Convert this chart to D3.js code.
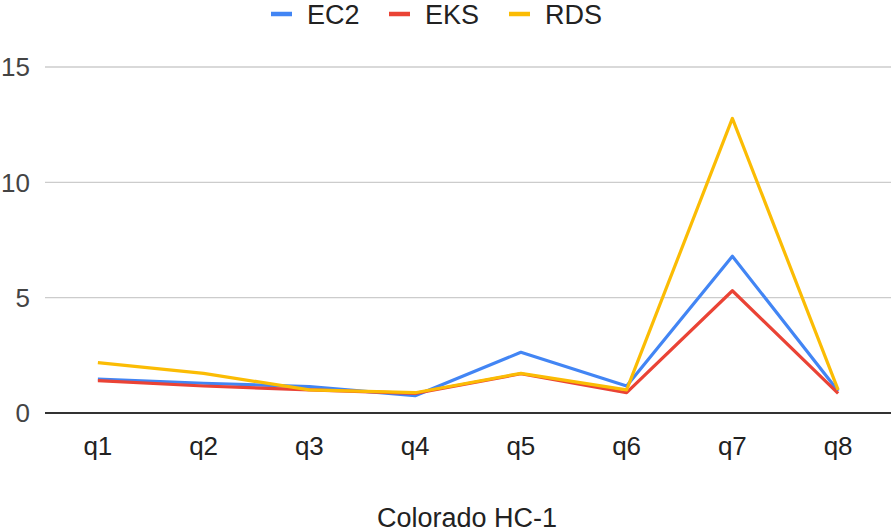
<!DOCTYPE html>
<html>
<head>
<meta charset="utf-8">
<script src="https://cdn.jsdelivr.net/npm/d3@7"></script>
<style>
  html, body { margin: 0; padding: 0; background: #fff; }
  text { font-family: Arial, "Liberation Sans", sans-serif; }
</style>
</head>
<body>
<svg id="chart" width="894" height="532"></svg>
<script>
const categories = ["q1", "q2", "q3", "q4", "q5", "q6", "q7", "q8"];
const seriesNames = ["EC2", "EKS", "RDS"];
const ec2 = [1.47, 1.29, 1.14, 0.75, 2.63, 1.17, 6.80, 0.95];
const eks = [1.40, 1.17, 1.00, 0.85, 1.70, 0.88, 5.30, 0.85];
const rds = [2.18, 1.72, 1.00, 0.88, 1.72, 1.00, 12.77, 1.00];
const yTicks = [0, 5, 10, 15];
const colors = ["#4285F4", "#EA4335", "#FBBC04"];
const title = "Colorado HC-1";

const seriesValues = [ec2, eks, rds];
const svg = d3.select("#chart");
const W = 894, H = 532;
const m = { left: 45, right: 3, top: 67, bottom: 119 };

const x = d3.scaleBand().domain(categories).range([m.left, W - m.right]).padding(0);
const y = d3.scaleLinear().domain([0, 15]).range([H - m.bottom, m.top]);

// gridlines
svg.append("g").selectAll("line").data(yTicks.filter(t => t !== 0)).join("line")
  .attr("x1", m.left).attr("x2", W - m.right)
  .attr("y1", d => y(d)).attr("y2", d => y(d))
  .attr("stroke", "#cccccc").attr("stroke-width", 1.3);

// y tick labels
svg.append("g").selectAll("text").data(yTicks).join("text")
  .attr("x", 30).attr("y", d => y(d)).attr("dy", "0.36em")
  .attr("text-anchor", "end").attr("font-size", 26).attr("fill", "#444")
  .text(d => d);

// x labels
svg.append("g").selectAll("text").data(categories).join("text")
  .attr("x", d => x(d) + x.bandwidth() / 2).attr("y", 455)
  .attr("text-anchor", "middle").attr("font-size", 26).attr("fill", "#222")
  .text(d => d);

// lines
const line = d3.line()
  .x((d, i) => x(categories[i]) + x.bandwidth() / 2)
  .y(d => y(d));
svg.append("g").selectAll("path").data(seriesValues).join("path")
  .attr("d", d => line(d))
  .attr("fill", "none")
  .attr("stroke", (d, i) => colors[i])
  .attr("stroke-width", 3.2)
  .attr("stroke-linejoin", "round");

// baseline axis
svg.append("line")
  .attr("x1", m.left).attr("x2", W - m.right)
  .attr("y1", y(0)).attr("y2", y(0))
  .attr("stroke", "#333").attr("stroke-width", 2);

// legend
const legendX = [271, 389, 509];
const lg = svg.append("g").selectAll("g").data(seriesNames).join("g")
  .attr("transform", (d, i) => `translate(${legendX[i]},14)`);
lg.append("line").attr("x1", 0).attr("x2", 21).attr("y1", 0).attr("y2", 0)
  .attr("stroke", (d, i) => colors[i]).attr("stroke-width", 4.5);
lg.append("text").attr("x", 36).attr("y", 9.5)
  .attr("font-size", 27).attr("fill", "#222").text(d => d);

// title
svg.append("text").attr("x", 467).attr("y", 527)
  .attr("text-anchor", "middle").attr("font-size", 27).attr("fill", "#222")
  .text(title);
</script>
</body>
</html>
